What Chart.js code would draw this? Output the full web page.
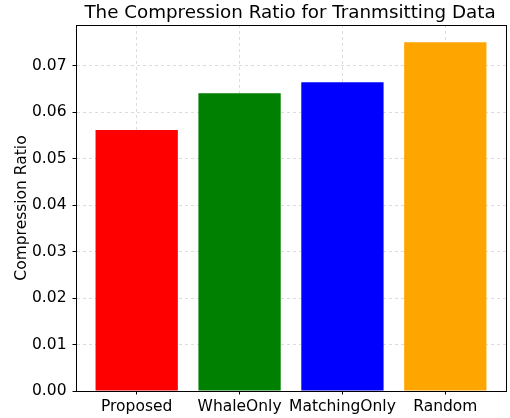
<!DOCTYPE html>
<html>
<head>
<meta charset="utf-8">
<script src="https://cdn.jsdelivr.net/npm/chart.js@4/dist/chart.umd.min.js"></script>
<style>
  html, body { margin: 0; padding: 0; background: #fff; }
  canvas { display: block; }
</style>
</head>
<body>
<canvas id="c" width="510" height="418"></canvas>
<script>
const categories = ["Proposed", "WhaleOnly", "MatchingOnly", "Random"];
const ratios = [0.0562, 0.0641, 0.0665, 0.0751];
const barColors = ["#ff0000", "#008000", "#0000ff", "#ffa500"];
const yTicks = [0.00, 0.01, 0.02, 0.03, 0.04, 0.05, 0.06, 0.07];
const titleText = "The Compression Ratio for Tranmsitting Data";
const yLabel = "Compression Ratio";

const FONT = "'DejaVu Sans', sans-serif";

const framePlugin = {
  id: 'frame',
  afterDraw(chart) {
    const { ctx, chartArea: a } = chart;
    ctx.save();
    ctx.strokeStyle = '#000';
    ctx.lineWidth = 1;
    ctx.strokeRect(Math.round(a.left) + 0.5, Math.round(a.top) + 0.5,
                   Math.round(a.right - a.left), Math.round(a.bottom - a.top));
    ctx.fillStyle = '#000';
    ctx.font = "18.3px " + FONT;
    ctx.textAlign = 'center';
    ctx.textBaseline = 'alphabetic';
    ctx.fillText(titleText, (a.left + a.right) / 2 - 1, 18);
    ctx.restore();
  }
};

const gridStyle = {
  color: 'rgba(176,176,176,0.55)',
  lineWidth: 0.8,
  offset: false,
  tickLength: 3.5,
  tickColor: '#000',
  tickWidth: 1,
  tickBorderDash: []
};
const borderStyle = { display: true, color: '#000', width: 1, dash: [3, 3] };

new Chart(document.getElementById('c'), {
  type: 'bar',
  data: {
    datasets: [{
      data: ratios.map((v, i) => ({ x: i, y: v })),
      backgroundColor: barColors,
      borderWidth: 0,
      barPercentage: 0.8,
      categoryPercentage: 1.0
    }]
  },
  options: {
    responsive: false,
    animation: false,
    layout: { padding: { top: 25, right: 4, left: 0, bottom: 0 } },
    plugins: {
      legend: { display: false },
      title: { display: false },
      tooltip: { enabled: false }
    },
    scales: {
      x: {
        type: 'linear',
        min: -0.59,
        max: 3.59,
        offset: false,
        z: 1,
        afterBuildTicks(s) { s.ticks = categories.map((c, i) => ({ value: i })); },
        afterFit(s) { s.height = 27; },
        ticks: {
          autoSkip: false,
          maxRotation: 0,
          padding: 3,
          color: '#000',
          font: { family: FONT, size: 15.5 },
          callback: (v) => categories[v] ?? ''
        },
        grid: gridStyle,
        border: borderStyle
      },
      y: {
        min: 0,
        max: 0.0788,
        z: 1,
        afterBuildTicks(s) { s.ticks = yTicks.map(v => ({ value: v })); },
        afterFit(s) { s.width = 76; },
        ticks: {
          padding: 6,
          color: '#000',
          font: { family: FONT, size: 15.5 },
          callback: (v) => Number(v).toFixed(2)
        },
        title: {
          display: true,
          text: yLabel,
          color: '#000',
          font: { family: FONT, size: 15.5 },
          padding: { top: 13, bottom: 0 }
        },
        grid: gridStyle,
        border: borderStyle
      }
    }
  },
  plugins: [framePlugin]
});
</script>
</body>
</html>
